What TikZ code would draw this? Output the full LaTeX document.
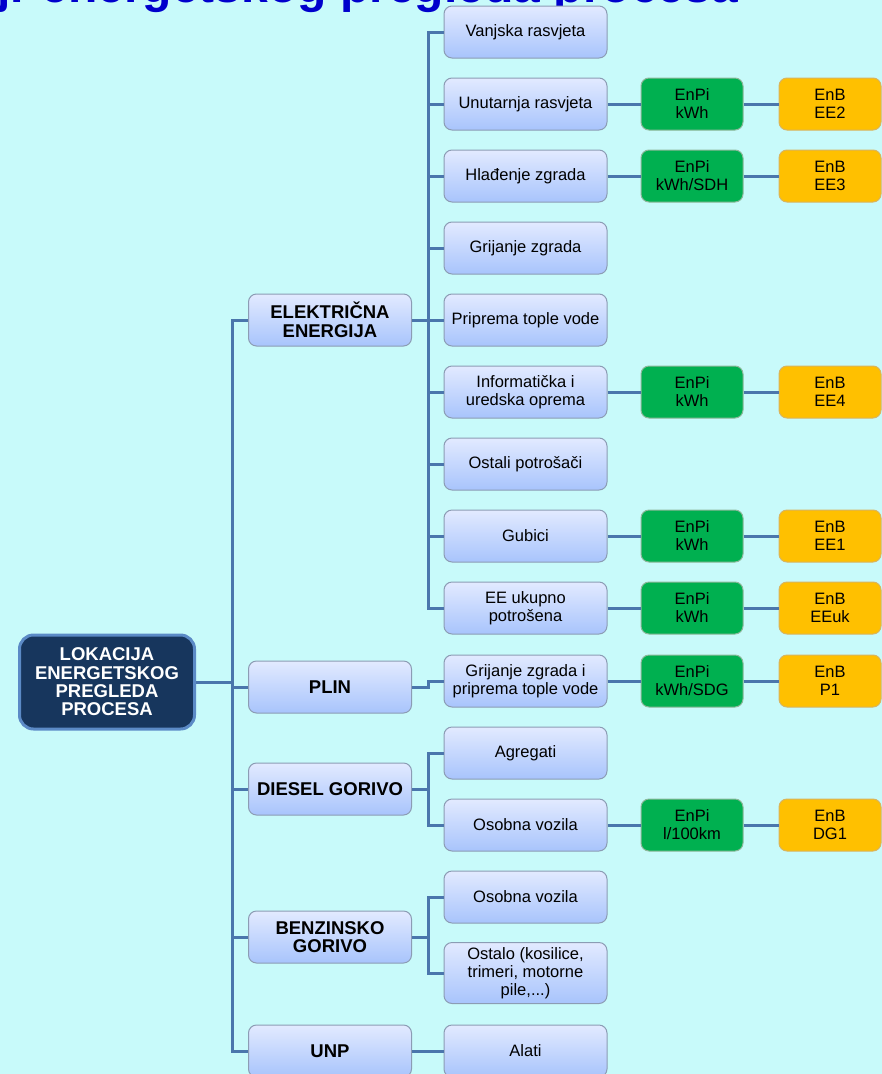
\documentclass[tikz,border=0pt]{standalone}
\usepackage{fontspec}
\setmainfont{Liberation Sans}
\usetikzlibrary{positioning}

\definecolor{pozadina}{HTML}{C8FAFA}
\definecolor{linija}{HTML}{4A76AC}
\definecolor{naslovplava}{HTML}{0000CC}
\definecolor{korijen}{HTML}{17365D}
\definecolor{korijenokvir}{HTML}{5B8AC6}
\definecolor{okvir}{HTML}{8C9CB4}
\definecolor{plavagore}{HTML}{E2EAFF}
\definecolor{plavadolje}{HTML}{A8C4FC}
\definecolor{zelena}{HTML}{00B050}
\definecolor{zelenaokvir}{HTML}{8DB89A}
\definecolor{narancasta}{HTML}{FFC000}
\definecolor{narancastaokvir}{HTML}{D8B460}

\begin{document}
\begin{tikzpicture}[
  x=1pt, y=-1pt,
  node distance=33pt,
  every node/.style={align=center, inner sep=2pt},
  box/.style={draw=okvir, line width=1pt, rounded corners=8pt,
              top color=plavagore, bottom color=plavadolje,
              minimum width=163pt, minimum height=52pt,
              font=\fontsize{16.5}{18}\selectfont},
  grana/.style={box, font=\fontsize{18.5}{18.5}\selectfont\bfseries},
  enpi/.style={draw=zelenaokvir, line width=1pt, rounded corners=8pt, fill=zelena,
               minimum width=102pt, minimum height=52pt,
               font=\fontsize{16.5}{18}\selectfont},
  enb/.style={enpi, draw=narancastaokvir, fill=narancasta},
  veza/.style={draw=linija, line width=3pt}
]

% pozadina i okvir slike
\fill[pozadina] (0,0) rectangle (882,1074);
\clip (0,0) rectangle (882,1074);

% naslov (odrezan na vrhu)
\node[anchor=base east, inner sep=0pt, text=naslovplava,
      font=\fontsize{48}{50}\selectfont\bfseries] (naslov) at (738,2)
  {j. energetskog pregleda procesa};

% Glavni cvor
\node[draw=korijenokvir, line width=3pt, fill=korijen, rounded corners=14pt,
      minimum width=175pt, minimum height=94pt, text=white,
      font=\fontsize{18.5}{18.4}\selectfont\bfseries] (lokacija) at (107,682)
  {LOKACIJA\\ENERGETSKOG\\PREGLEDA\\PROCESA};

% ====================== ENERGENTI ======================
\node[grana] (ee)     at (330,320)  {ELEKTRIČNA\\ENERGIJA};
\node[grana] (plin)   at (330,687)  {PLIN};
\node[grana] (diesel) at (330,789)  {DIESEL GORIVO};
\node[grana] (benzin) at (330,937)  {BENZINSKO\\GORIVO};
\node[grana] (unp)    at (330,1051) {UNP};

% ====================== ELEKTRIČNA ENERGIJA ======================
\node[box] (vanjska)   at (525.5,32)  {Vanjska rasvjeta};
\node[box] (unutarnja) at (525.5,104) {Unutarnja rasvjeta};
\node[box] (hladenje)  at (525.5,176) {Hlađenje zgrada};
\node[box] (grijanje)  at (525.5,248) {Grijanje zgrada};
\node[box] (priprema)  at (525.5,320) {Priprema tople vode};
\node[box] (oprema)    at (525.5,392) {Informatička i\\uredska oprema};
\node[box] (ostali)    at (525.5,464) {Ostali potrošači};
\node[box] (gubici)    at (525.5,536) {Gubici};
\node[box] (eeuk)      at (525.5,608) {EE ukupno\\potrošena};

% ====================== PLIN ======================
\node[box] (plingrij)  at (525.5,681) {Grijanje zgrada i\\priprema tople vode};

% ====================== DIESEL GORIVO ======================
\node[box] (agregati)  at (525.5,753) {Agregati};
\node[box] (dgvozila)  at (525.5,825) {Osobna vozila};

% ====================== BENZINSKO GORIVO ======================
\node[box] (bgvozila)  at (525.5,897) {Osobna vozila};
\node[box, minimum height=61pt] (ostalo) at (525.5,973)
  {Ostalo (kosilice,\\trimeri, motorne\\pile,...)};

% ====================== UNP ======================
\node[box] (alati)     at (525.5,1051) {Alati};

% ====================== EnPi / EnB ======================
\node[enpi, right=of unutarnja] (enpi2) {EnPi\\kWh};
\node[enb,  right=35pt of enpi2] (enb2) {EnB\\EE2};
\node[enpi, right=of hladenje]  (enpi3) {EnPi\\kWh/SDH};
\node[enb,  right=35pt of enpi3] (enb3) {EnB\\EE3};
\node[enpi, right=of oprema]    (enpi4) {EnPi\\kWh};
\node[enb,  right=35pt of enpi4] (enb4) {EnB\\EE4};
\node[enpi, right=of gubici]    (enpi1) {EnPi\\kWh};
\node[enb,  right=35pt of enpi1] (enb1) {EnB\\EE1};
\node[enpi, right=of eeuk]      (enpiuk) {EnPi\\kWh};
\node[enb,  right=35pt of enpiuk] (enbuk) {EnB\\EEuk};
\node[enpi, right=of plingrij]  (enpip) {EnPi\\kWh/SDG};
\node[enb,  right=35pt of enpip] (enbp) {EnB\\P1};
\node[enpi, right=of dgvozila]  (enpidg) {EnPi\\l/100km};
\node[enb,  right=35pt of enpidg] (enbdg) {EnB\\DG1};

% ====================== VEZE ======================
\foreach \cilj in {ee,plin,diesel,benzin,unp}
  \draw[veza] (lokacija.east) -- ++(36,0) |- (\cilj.west);
\foreach \cilj in {vanjska,unutarnja,hladenje,grijanje,priprema,oprema,ostali,gubici,eeuk}
  \draw[veza] (ee.east) -- ++(16,0) |- (\cilj.west);
\draw[veza] (plin.east) -- ++(16,0) |- (plingrij.west);
\foreach \cilj in {agregati,dgvozila}
  \draw[veza] (diesel.east) -- ++(16,0) |- (\cilj.west);
\foreach \cilj in {bgvozila,ostalo}
  \draw[veza] (benzin.east) -- ++(16,0) |- (\cilj.west);
\draw[veza] (unp) -- (alati);

\draw[veza] (unutarnja) -- (enpi2) -- (enb2);
\draw[veza] (hladenje) -- (enpi3) -- (enb3);
\draw[veza] (oprema) -- (enpi4) -- (enb4);
\draw[veza] (gubici) -- (enpi1) -- (enb1);
\draw[veza] (eeuk) -- (enpiuk) -- (enbuk);
\draw[veza] (plingrij) -- (enpip) -- (enbp);
\draw[veza] (dgvozila) -- (enpidg) -- (enbdg);

\end{tikzpicture}
\end{document}
